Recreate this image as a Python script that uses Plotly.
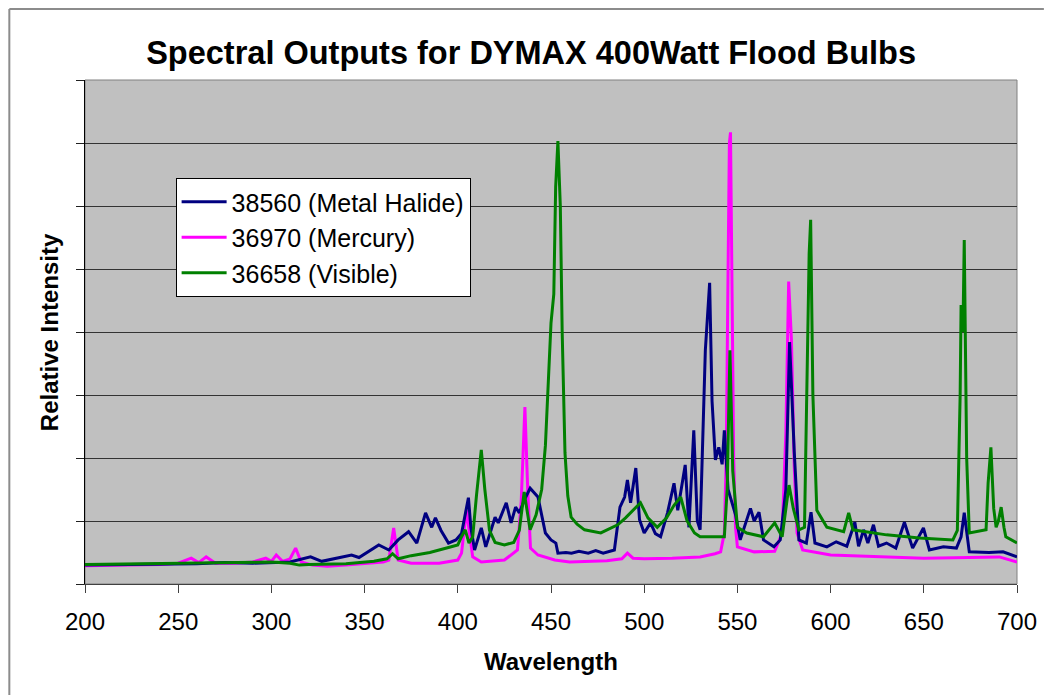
import plotly.graph_objects as go

# ---- data (x = wavelength, y = relative intensity) ----
mh_wl = [200, 230, 260, 275, 290, 310, 321, 327, 336, 343, 347, 352, 357.6, 363, 368, 373.6, 378,
         382.7, 386, 388, 391, 395, 399, 402, 404, 405.7, 407, 409, 412.6, 415, 420, 421.7, 426,
         428.6, 431, 433, 436, 438.8, 443, 447, 450, 452.6, 453.7, 458, 461, 465, 470, 474, 478,
         484, 487, 489.5, 491, 492.7, 495.5, 497.5, 500, 503.4, 506, 508.8, 512.5, 516, 518, 522,
         524, 526.6, 528.5, 530, 532.8, 535.1, 536.4, 538.2, 540, 541.8, 543, 545, 547, 549, 551.5,
         557, 559, 561.6, 564, 569.6, 573, 576, 578, 580.5, 583, 587, 589.5, 591.6, 598, 603,
         608.7, 613, 615, 617.7, 620, 623, 625.7, 630, 635, 639.6, 644, 649.8, 653, 660.5, 667.5,
         670, 671.7, 674.4, 685, 692.5, 700]
mh_val = [0.30, 0.31, 0.32, 0.34, 0.33, 0.35, 0.43, 0.36, 0.42, 0.46, 0.42, 0.51, 0.62, 0.54, 0.70, 0.83, 0.65,
          1.13, 0.90, 1.05, 0.85, 0.65, 0.70, 0.80, 1.13, 1.37, 0.90, 0.54, 0.89, 0.59, 1.06, 0.97, 1.29,
          0.97, 1.22, 1.13, 1.35, 1.52, 1.38, 0.81, 0.70, 0.65, 0.49, 0.50, 0.49, 0.52, 0.49, 0.53, 0.49,
          0.54, 1.22, 1.38, 1.65, 1.29, 1.84, 1.02, 0.81, 0.97, 0.80, 0.75, 1.13, 1.60, 1.17, 1.89,
          0.90, 2.44, 1.00, 0.86, 3.71, 4.78, 2.90, 1.97, 2.17, 1.90, 2.44, 1.50, 1.30, 1.10, 0.70,
          1.20, 1.00, 1.14, 0.70, 0.59, 0.70, 1.50, 3.84, 2.10, 0.70, 0.65, 1.14, 0.65, 0.59, 0.67,
          0.60, 0.98, 0.60, 0.86, 0.65, 0.94, 0.60, 0.65, 0.57, 0.98, 0.57, 0.89, 0.54, 0.59, 0.57,
          0.75, 1.13, 0.51, 0.50, 0.51, 0.43]

hg_wl = [200, 220, 240, 250, 257, 261, 265, 270, 280, 290, 297, 300, 302.6, 306, 310, 313, 316, 322,
         330, 340, 350, 360, 363, 365.6, 368, 375, 390, 400, 402, 404.6, 408, 412.6, 425, 432, 434,
         436, 437.5, 439, 443, 452, 460, 470, 480, 488, 491, 494, 500, 515, 530, 538, 541, 543,
         544, 545, 545.7, 546.3, 547, 548, 549, 550, 559, 570, 574, 576, 577.5, 579, 580.5, 582,
         585, 600, 650, 690.5, 700]
hg_val = [0.29, 0.30, 0.31, 0.33, 0.41, 0.34, 0.43, 0.33, 0.33, 0.35, 0.41, 0.36, 0.46, 0.36, 0.40, 0.57, 0.35, 0.30,
          0.28, 0.30, 0.33, 0.35, 0.38, 0.89, 0.38, 0.33, 0.33, 0.38, 0.49, 1.17, 0.43, 0.35, 0.38, 0.54, 1.30,
          2.81, 1.50, 0.57, 0.46, 0.38, 0.35, 0.36, 0.37, 0.40, 0.49, 0.41, 0.40, 0.41, 0.43, 0.48, 0.51, 0.81,
          2.00, 5.00, 7.00, 7.17, 5.00, 2.00, 0.90, 0.59, 0.51, 0.52, 0.81, 2.40, 4.80, 3.87, 1.86, 0.81,
          0.54, 0.46, 0.41, 0.43, 0.35]

vis_wl = [200, 230, 260, 290, 300, 310, 315, 320, 340, 355, 362, 365, 368, 375, 385, 395, 400, 402, 404,
          406, 408, 410, 412.6, 414.5, 417, 420, 425, 430, 433, 435.6, 437, 438.8, 442, 445, 447, 449,
          450, 451.5, 452.5, 453.7, 455, 456, 457.5, 459, 460.8, 464, 468, 476.7, 485.8, 490, 495, 498,
          502, 507, 512, 516, 519.6, 523, 527, 530, 543, 544.5, 546, 547.5, 550, 555, 564, 570, 574,
          576, 577.7, 580, 583, 586, 587.5, 588.5, 589.3, 590.5, 592.6, 598, 607, 609.7, 612, 620,
          630, 647.6, 665.6, 668, 669.5, 670, 671, 671.7, 673, 674.4, 683.4, 684.5, 686, 687.5,
          688.8, 690, 691.5, 693, 694, 700]
vis_val = [0.31, 0.32, 0.33, 0.35, 0.35, 0.33, 0.30, 0.31, 0.32, 0.36, 0.40, 0.48, 0.40, 0.45, 0.50, 0.58, 0.62, 0.75, 0.86,
           0.65, 0.75, 1.40, 2.13, 1.50, 0.85, 0.66, 0.62, 0.66, 0.85, 1.46, 1.20, 0.86, 1.10, 1.50, 2.20, 3.50,
           4.14, 4.60, 6.30, 7.03, 6.00, 4.00, 2.08, 1.40, 1.06, 0.95, 0.86, 0.81, 0.94, 1.05, 1.20, 1.29,
           1.05, 0.90, 1.05, 1.25, 1.38, 1.00, 0.81, 0.75, 0.75, 1.50, 3.71, 1.80, 0.90, 0.81, 0.75, 0.97, 0.75,
           1.20, 1.57, 1.20, 0.86, 0.90, 3.50, 5.25, 5.78, 3.00, 1.17, 0.90, 0.83, 1.13, 0.86, 0.82,
           0.78, 0.73, 0.70, 0.85, 3.00, 4.43, 4.00, 5.46, 2.00, 0.81, 0.86, 1.60, 2.17, 1.20,
           0.90, 1.00, 1.22, 0.90, 0.75, 0.65]

x_ticks = [200, 250, 300, 350, 400, 450, 500, 550, 600, 650, 700]

FONT = "Arial, Liberation Sans, sans-serif"

fig = go.Figure()
# drawing order: Mercury, Metal Halide, Visible (legend order fixed by legendrank)
fig.add_trace(go.Scatter(x=hg_wl, y=hg_val, mode="lines", name="36970 (Mercury)",
                         line=dict(color="#FF00FF", width=3), legendrank=2))
fig.add_trace(go.Scatter(x=mh_wl, y=mh_val, mode="lines", name="38560 (Metal Halide)",
                         line=dict(color="#000080", width=3), legendrank=1))
fig.add_trace(go.Scatter(x=vis_wl, y=vis_val, mode="lines", name="36658 (Visible)",
                         line=dict(color="#008000", width=3), legendrank=3))

W, H = 1049, 696
# plot area in picture pixels
L, R, T, B = 85, 1021, 80, 584
pw, ph = R - L, B - T

def px(x_px):
    return (x_px - L) / pw

def py(y_px):
    return (B - y_px) / ph

fig.update_layout(
    width=W, height=H,
    margin=dict(l=L, r=W - R, t=T, b=H - B, pad=0),
    paper_bgcolor="white",
    plot_bgcolor="#C0C0C0",
    font=dict(family=FONT, color="black"),
    title=dict(text="<b>Spectral Outputs for DYMAX 400Watt Flood Bulbs</b>",
               font=dict(size=32.5, family=FONT, color="black"),
               xref="paper", x=px(533), xanchor="center",
               yref="container", y=1 - 53 / H, yanchor="middle"),
    xaxis=dict(range=[200, 700], tickvals=x_ticks, ticks="outside", ticklen=8,
               tickcolor="#404040", tickwidth=1, showgrid=False, zeroline=False,
               showline=True, linecolor="#404040", linewidth=1, ticklabelstandoff=8,
               tickfont=dict(size=24, family=FONT, color="black")),
    yaxis=dict(range=[0, 8], dtick=1, ticks="outside", ticklen=8, tickcolor="#202020",
               showticklabels=False, showgrid=True, gridcolor="#333333", gridwidth=1,
               zeroline=False, showline=True, linecolor="black", linewidth=1),
    legend=dict(x=px(176), y=py(178), xanchor="left", yanchor="top",
                bgcolor="white", bordercolor="black", borderwidth=1,
                font=dict(size=25, family=FONT, color="black"),
                itemwidth=45),
    showlegend=True,
    annotations=[
        dict(text="<b>Wavelength</b>", xref="paper", yref="paper", x=0.5, y=py(661),
             xanchor="center", yanchor="middle", showarrow=False,
             font=dict(size=24, family=FONT, color="black")),
        dict(text="<b>Relative Intensity</b>", xref="paper", yref="paper", x=px(49), y=0.5,
             xanchor="center", yanchor="middle", showarrow=False, textangle=-90,
             font=dict(size=24, family=FONT, color="black")),
    ],
    shapes=[
        dict(type="rect", xref="paper", yref="paper", x0=0, x1=1, y0=0, y1=1,
             line=dict(color="#808080", width=1), layer="below"),
        # outer chart-area border (left and top edges visible in the picture)
        dict(type="line", xref="paper", yref="paper", x0=px(9), x1=px(9), y0=py(695), y1=py(9),
             line=dict(color="#8c8c8c", width=2), layer="below"),
        dict(type="line", xref="paper", yref="paper", x0=px(9), x1=px(1048), y0=py(9), y1=py(9),
             line=dict(color="#8c8c8c", width=2), layer="below"),
    ],
)

fig.write_html("out.html", config={"displayModeBar": False},
               post_script="document.body.style.margin='0';document.body.style.overflow='hidden';")
